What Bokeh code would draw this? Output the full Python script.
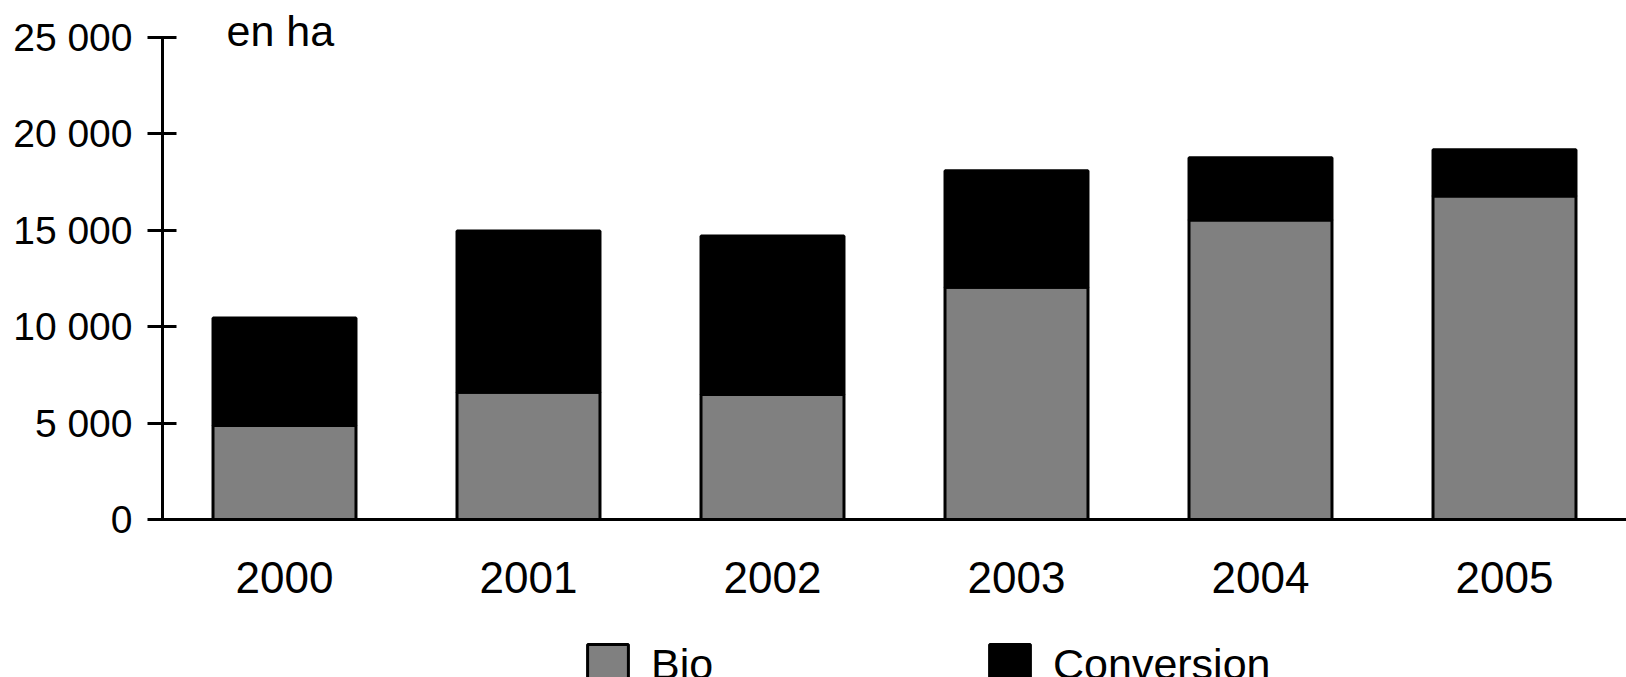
from bokeh.plotting import figure
from bokeh.layouts import column
from bokeh.models import ColumnDataSource, FactorRange, Range1d, FixedTicker, Label
from bokeh.embed import file_html
from bokeh.resources import INLINE

years = ["2000", "2001", "2002", "2003", "2004", "2005"]
bio = [4880, 6600, 6490, 12050, 15540, 16780]
conversion = [5570, 8370, 8220, 6040, 3230, 2400]
y_ticks = [0, 5000, 10000, 15000, 20000, 25000]
y_tick_labels = ["0", "5 000", "10 000", "15 000", "20 000", "25 000"]
series_names = ["Bio", "Conversion"]
series_colors = ["#808080", "#000000"]
unit_label = "en ha"

FONT = "Liberation Sans"

source = ColumnDataSource(dict(year=years, bio=bio, conversion=conversion))

# ---- main chart ----
p = figure(
    width=1626, height=620,
    x_range=FactorRange(*years, range_padding=0),
    y_range=Range1d(0, 26920),
    output_backend="svg", toolbar_location=None,
    min_border_left=162, min_border_right=0, min_border_top=0, min_border_bottom=101,
)
p.outline_line_color = None
p.xgrid.visible = False
p.ygrid.visible = False
p.background_fill_color = "white"
p.border_fill_color = "white"

p.vbar_stack(
    ["bio", "conversion"], x="year", width=0.586, source=source,
    fill_color=series_colors, line_color="black", line_width=3,
)

ya = p.yaxis[0]
ya.ticker = FixedTicker(ticks=y_ticks)
ya.major_label_overrides = {t: l for t, l in zip(y_ticks, y_tick_labels)}
ya.bounds = (0, 25000)
ya.axis_line_width = 3
ya.axis_line_color = "black"
ya.major_tick_line_width = 3
ya.major_tick_line_color = "black"
ya.major_tick_in = 14
ya.major_tick_out = 15
ya.minor_tick_line_color = None
ya.major_label_standoff = 15
ya.major_label_text_font = FONT
ya.major_label_text_font_size = "39px"
ya.major_label_text_color = "black"

xa = p.xaxis[0]
xa.axis_line_width = 3
xa.axis_line_color = "black"
xa.major_tick_line_color = None
xa.major_tick_out = 0
xa.major_tick_in = 0
xa.minor_tick_line_color = None
xa.major_label_standoff = 42
xa.major_label_text_font = FONT
xa.major_label_text_font_size = "44px"
xa.major_label_text_color = "black"

p.add_layout(Label(x=64, y=489, x_units="screen", y_units="screen", text=unit_label,
                   text_font=FONT, text_font_size="43px", text_color="black",
                   text_baseline="alphabetic"))

# ---- legend strip: its renderers use a range without the year factors, so only the legend shows ----
q = figure(
    width=1626, height=57,
    x_range=FactorRange("legend"), y_range=Range1d(0, 1),
    x_axis_type=None, y_axis_type=None,
    output_backend="svg", toolbar_location=None,
    min_border_left=0, min_border_right=0, min_border_top=0, min_border_bottom=0,
)
q.outline_line_color = None
q.background_fill_color = "white"
q.border_fill_color = "white"
q.vbar_stack(
    ["bio", "conversion"], x="year", width=0.586, source=source,
    fill_color=series_colors, line_color="black", line_width=3,
    legend_label=series_names,
)
lg = q.legend[0]
lg.orientation = "horizontal"
lg.location = (420, -13)
lg.glyph_width = 51
lg.glyph_height = 51
lg.label_height = 41
lg.label_width = 333
lg.label_standoff = 18
lg.spacing = 0
lg.padding = 0
lg.margin = 0
lg.border_line_color = None
lg.background_fill_alpha = 0
lg.label_text_font = FONT
lg.label_text_font_size = "43px"
lg.label_text_color = "black"

layout = column(p, q, spacing=0)
open("out.html", "w").write(file_html(layout, INLINE))
